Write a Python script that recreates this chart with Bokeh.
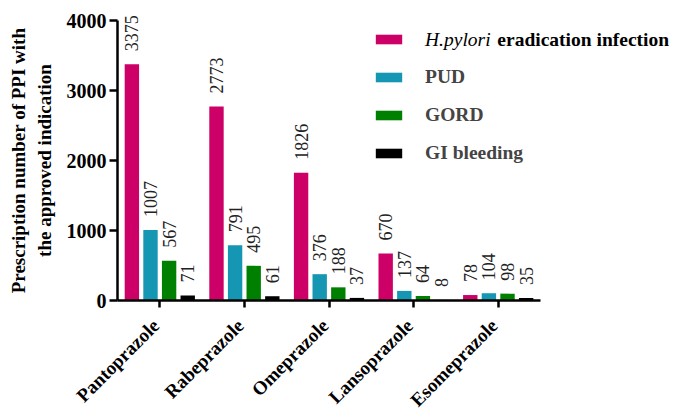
from math import pi
from bokeh.plotting import figure
from bokeh.models import (FixedTicker, LabelSet, ColumnDataSource, Range1d,
                          Legend, LegendItem, Label)
from bokeh.core.properties import value
from bokeh.transform import dodge
from bokeh.embed import file_html
from bokeh.resources import INLINE

drugs = ["Pantoprazole", "Rabeprazole", "Omeprazole", "Lansoprazole", "Esomeprazole"]
indications = ["H.pylori eradication infection", "PUD", "GORD", "GI bleeding"]
hpylori = [3375, 2773, 1826, 670, 78]
pud = [1007, 791, 376, 137, 104]
gord = [567, 495, 188, 64, 98]
gi_bleeding = [71, 61, 37, 8, 35]
y_ticks = [0, 1000, 2000, 3000, 4000]
y_title = "Prescription number of PPI with\nthe approved indication"
colors = ["#CC0066", "#1597B4", "#008000", "#000000"]

FONT = "Liberation Serif"

# category centres on a numeric axis (0.5, 1.5, ...)
xs = [i + 0.5 for i in range(len(drugs))]

p = figure(x_range=Range1d(-1.383, 6.572), y_range=Range1d(-1600, 4200),
           width=678, height=412, output_backend="svg", toolbar_location=None,
           x_axis_location="above", y_axis_location="right",
           min_border_left=0, min_border_right=5, min_border_top=6,
           min_border_bottom=0)

offsets = [-0.33, -0.11, 0.11, 0.33]
series = [hpylori, pud, gord, gi_bleeding]
renderers = []
for vals, color, off in zip(series, colors, offsets):
    src = ColumnDataSource(dict(x=xs, y=vals, lbl=[str(v) for v in vals]))
    r = p.vbar(x=dodge("x", off), top="y", width=0.17,
               source=src, fill_color=color, line_color=None)
    renderers.append(r)
    p.add_layout(LabelSet(x=dodge("x", off), y="y", text="lbl",
                          source=src, angle=pi / 2, text_align="left",
                          text_baseline="middle", y_offset=13,
                          text_font=value(FONT), text_font_size=value("18px"),
                          text_color="#222222"))

# category names under the x axis
cat_src = ColumnDataSource(dict(x=xs, name=drugs))
p.add_layout(LabelSet(x="x", y=0, text="name", source=cat_src, angle=pi / 4,
                      text_align="right", text_baseline="middle",
                      x_offset=-4, y_offset=-22, text_font=value(FONT),
                      text_font_style=value("bold"), text_font_size=value("19px"),
                      text_color="black"))

# y tick labels and y title
tick_src = ColumnDataSource(dict(x=[0] * len(y_ticks), y=y_ticks,
                                 t=[str(t) for t in y_ticks]))
p.add_layout(LabelSet(x="x", y="y", text="t", source=tick_src,
                      text_align="right", text_baseline="middle", x_offset=-11,
                      text_font=value(FONT), text_font_style=value("bold"),
                      text_font_size=value("20px"), text_color="black"))
p.add_layout(Label(x=0, y=2000, x_offset=-86, text=y_title, angle=pi / 2,
                   text_align="center", text_baseline="middle",
                   text_font=FONT, text_font_style="bold",
                   text_font_size="19px", text_color="black"))

p.xgrid.visible = False
p.ygrid.visible = False
p.outline_line_color = None
p.background_fill_color = "white"

for ax in (p.xaxis, p.yaxis):
    ax.fixed_location = 0
    ax.axis_label = None
    ax.axis_label_standoff = 0
    ax.axis_line_width = 2.5
    ax.axis_line_color = "black"
    ax.major_tick_line_width = 2.5
    ax.major_tick_line_color = "black"
    ax.major_tick_out = 0
    ax.minor_tick_line_color = None
    ax.major_label_text_font_size = "0px"
    ax.major_label_standoff = 0

p.yaxis.ticker = FixedTicker(ticks=y_ticks, minor_ticks=[])
p.yaxis.major_label_overrides = {t: "" for t in y_ticks}
p.yaxis.bounds = (0, 4000)
p.yaxis.major_tick_in = 8

p.xaxis.ticker = FixedTicker(ticks=xs, minor_ticks=[])
p.xaxis.major_label_overrides = {x: "" for x in xs}
p.xaxis.bounds = (0, len(drugs))
p.xaxis.major_tick_in = 7

items = [LegendItem(label=" ", renderers=[renderers[0]])]
for name, r in zip(indications[1:], renderers[1:]):
    items.append(LegendItem(label=name, renderers=[r]))
legend = Legend(items=items, location=(372, 248), orientation="vertical",
                glyph_width=33, glyph_height=12, label_height=22, spacing=16,
                label_standoff=20, padding=0, margin=0, border_line_alpha=0,
                background_fill_alpha=0, label_text_font=FONT,
                label_text_font_style="bold", label_text_font_size="19.5px")
p.add_layout(legend)

p.add_layout(Label(x=3.635, y=3729, text="H.pylori", text_font=FONT,
                   text_font_style="italic", text_font_size="19.5px",
                   text_baseline="middle", text_color="black"))
p.add_layout(Label(x=4.49, y=3729, text="eradication infection", text_font=FONT,
                   text_font_style="bold", text_font_size="19.5px",
                   text_baseline="middle", text_color="black"))

open("out.html", "w").write(file_html(p, INLINE))
